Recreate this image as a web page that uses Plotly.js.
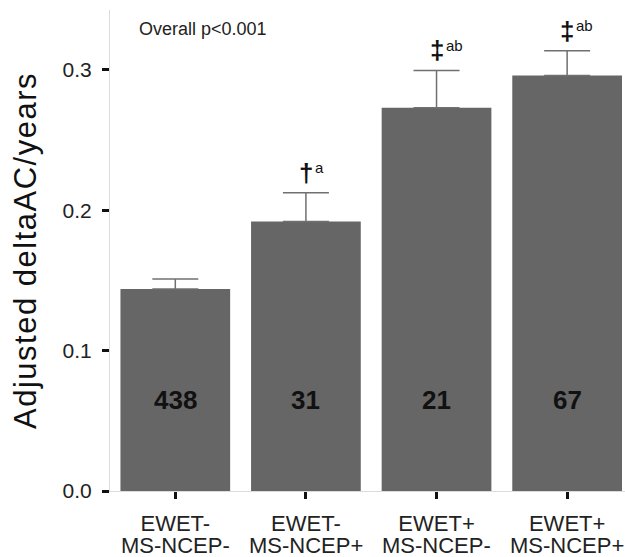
<!DOCTYPE html>
<html>
<head>
<meta charset="utf-8">
<script src="https://cdn.plot.ly/plotly-3.0.1.min.js"></script>
<style>
html,body{margin:0;padding:0;background:#fff;}
.g-ytitle text{letter-spacing:1.5px;}
</style>
</head>
<body>
<div id="chart" style="width:625px;height:557px;"></div>
<script>
// ---- data ----
var labelTop = ["EWET-", "EWET-", "EWET+", "EWET+"];
var labelBottom = ["MS-NCEP-", "MS-NCEP+", "MS-NCEP-", "MS-NCEP+"];
var categories = labelTop.map(function(t, i){ return t + " " + labelBottom[i]; });
var values = [0.144, 0.192, 0.273, 0.296];
var errors = [0.007, 0.0205, 0.0266, 0.0177];
var counts = ["438", "31", "21", "67"];
var markSymbols = ["", "\u2020", "\u2021", "\u2021"];
var markLetters = ["", "a", "ab", "ab"];
var yTicks = [0.0, 0.1, 0.2, 0.3];
var yTickText = ["0.0", "0.1", "0.2", "0.3"];

var FONT = "Liberation Sans, Arial, Helvetica, sans-serif";

var trace = {
  type: "bar",
  x: categories,
  y: values,
  marker: {color: "#666666", line: {width: 0}},
  error_y: {
    type: "data",
    array: errors,
    arrayminus: errors.map(function(){ return 0; }),
    symmetric: false,
    color: "#707070",
    thickness: 1.5,
    width: 23
  },
  hoverinfo: "none"
};

var annotations = [];
for (var i = 0; i < categories.length; i++) {
  annotations.push({
    x: categories[i], y: 0.065, xref: "x", yref: "y",
    text: "<b>" + counts[i] + "</b>", showarrow: false,
    font: {family: FONT, size: 26, color: "#111"},
    xanchor: "center", yanchor: "middle"
  });
  annotations.push({
    x: categories[i], y: 0, xref: "x", yref: "paper",
    text: labelBottom[i], showarrow: false,
    font: {family: FONT, size: 22, color: "#222"},
    xanchor: "center", yanchor: "middle", yshift: -54
  });
  if (markSymbols[i]) {
    annotations.push({
      x: categories[i], y: values[i] + errors[i], xref: "x", yref: "y",
      text: "<b>" + markSymbols[i] + "</b>", showarrow: false,
      font: {family: FONT, size: 26, color: "#111"},
      xanchor: "center", yanchor: "middle", yshift: 20
    });
    annotations.push({
      x: categories[i], y: values[i] + errors[i], xref: "x", yref: "y",
      text: markLetters[i], showarrow: false,
      font: {family: FONT, size: 15, color: "#111"},
      xanchor: "left", yanchor: "middle", xshift: 7, yshift: 25
    });
  }
}
annotations.push({
  x: 0.053, y: 1 - (29 - 10) / (557 - 10 - 66), xref: "paper", yref: "paper",
  text: "Overall p<0.001", showarrow: false,
  font: {family: FONT, size: 18, color: "#222"},
  xanchor: "left", yanchor: "middle"
});

var layout = {
  width: 625, height: 557,
  margin: {l: 110, r: 0, t: 10, b: 66},
  paper_bgcolor: "#fff", plot_bgcolor: "#fff",
  showlegend: false,
  bargap: 0.16,
  font: {family: FONT, color: "#222"},
  xaxis: {
    type: "category",
    range: [-0.5, 3.443],
    tickvals: categories, ticktext: labelTop,
    showgrid: false, zeroline: false,
    showline: true, linecolor: "#dcdcdc", linewidth: 1,
    ticks: "outside", ticklen: 7, tickwidth: 3, tickcolor: "#111",
    ticklabelstandoff: 6,
    tickfont: {family: FONT, size: 22, color: "#222"},
    fixedrange: true
  },
  yaxis: {
    range: [0, 0.3427],
    tickvals: yTicks, ticktext: yTickText,
    showgrid: false, zeroline: false,
    showline: true, linecolor: "#dcdcdc", linewidth: 1,
    ticks: "outside", ticklen: 7, tickwidth: 3, tickcolor: "#111",
    ticklabelstandoff: 6,
    tickfont: {family: FONT, size: 21, color: "#222"},
    title: {text: "Adjusted deltaAC/years", font: {family: FONT, size: 31, color: "#111"}, standoff: 16},
    fixedrange: true
  },
  annotations: annotations
};

Plotly.newPlot("chart", [trace], layout, {displayModeBar: false, staticPlot: true});
</script>
</body>
</html>
